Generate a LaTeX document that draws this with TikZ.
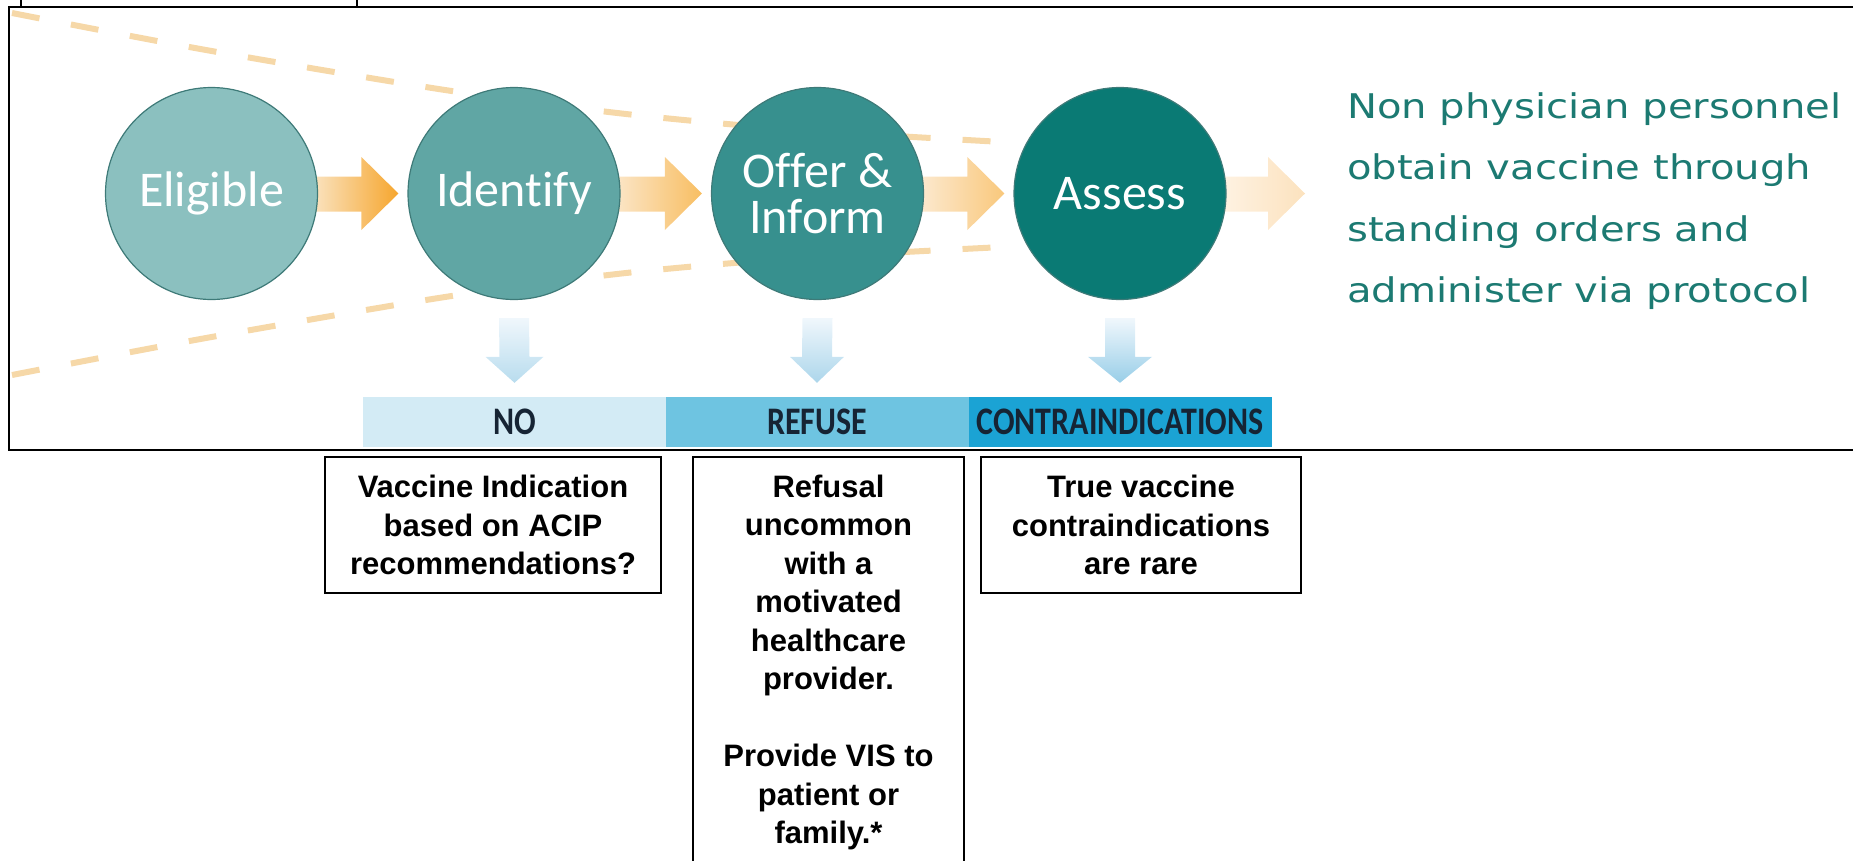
\documentclass[tikz,border=0pt]{standalone}
\usepackage{fontspec}
\setmainfont{Liberation Sans}
\newfontfamily\circlefont[Ligatures=NoCommon]{Carlito}
\newfontfamily\barfont[FakeStretch=0.82]{Carlito}
\newfontfamily\notefont[FakeStretch=1.18]{DejaVu Sans}
\usetikzlibrary{calc}

\definecolor{eligfill}{RGB}{139,192,191}
\definecolor{idenfill}{RGB}{96,166,164}
\definecolor{offfill}{RGB}{55,144,142}
\definecolor{assfill}{RGB}{10,122,116}
\definecolor{ringc}{RGB}{62,122,120}
\definecolor{dashc}{RGB}{246,216,168}
\definecolor{notec}{RGB}{28,122,114}
\definecolor{noc}{RGB}{211,235,245}
\definecolor{refc}{RGB}{110,196,225}
\definecolor{conc}{RGB}{27,163,212}
\definecolor{barink}{RGB}{22,36,52}
\definecolor{droptop}{RGB}{240,247,252}
% flow arrow shades (pale tail, stronger head)
\definecolor{flowAa}{RGB}{250,226,190}
\definecolor{flowAb}{RGB}{246,166,46}
\definecolor{flowBa}{RGB}{251,229,198}
\definecolor{flowBb}{RGB}{248,190,98}
\definecolor{flowCa}{RGB}{252,233,207}
\definecolor{flowCb}{RGB}{249,200,124}
\definecolor{flowDa}{RGB}{254,242,226}
\definecolor{flowDb}{RGB}{252,226,190}
% drop arrow shades
\definecolor{dropA}{RGB}{184,220,238}
\definecolor{dropB}{RGB}{172,214,235}
\definecolor{dropC}{RGB}{152,206,232}

\pgfdeclarelayer{bg}
\pgfsetlayers{bg,main}

% block arrow from anchor #1 to just before anchor #2, shaded #3 -> #4
\newcommand{\flowarrow}[4]{%
  \path[left color=#3, right color=#4]
    ([xshift=-4pt,yshift=17pt]#1) -- ([xshift=-46pt,yshift=17pt]#2)
    -- ([xshift=-46pt,yshift=36.5pt]#2) -- ([xshift=-9pt]#2)
    -- ([xshift=-46pt,yshift=-36.5pt]#2) -- ([xshift=-46pt,yshift=-18pt]#2)
    -- ([xshift=-4pt,yshift=-18pt]#1) -- cycle;}

% downward block arrow from anchor #1 to anchor #2, head half width #3, colour #4
\newcommand{\dropmark}[4]{%
  \path[top color=droptop, bottom color=#4]
    ([xshift=-15pt,yshift=-18pt]#1) -- ([xshift=15pt,yshift=-18pt]#1)
    -- ([xshift=15pt,yshift=40pt]#2) -- ([xshift=#3,yshift=40pt]#2)
    -- ([yshift=14pt]#2) -- ([xshift=-#3,yshift=40pt]#2)
    -- ([xshift=-15pt,yshift=40pt]#2) -- cycle;}

\begin{document}
\begin{tikzpicture}[x=1pt,y=-1pt,
  stage/.style={circle, minimum size=212pt, inner sep=0pt, draw=ringc,
    line width=1.2pt, text=white, align=center,
    font=\circlefont\fontsize{50}{46}\selectfont},
  barcell/.style={rectangle, minimum width=303pt, minimum height=50pt,
    inner sep=0pt, text=barink, font=\barfont\bfseries\fontsize{39}{40}\selectfont},
  notebox/.style={draw=black, line width=2pt, anchor=north, inner xsep=4pt,
    inner ysep=18pt, align=center, font=\bfseries\fontsize{31}{38.5}\selectfont},
  fadeline/.style={draw=dashc, line width=6pt, dash pattern=on 28pt off 32pt},
  frameline/.style={draw=black, line width=2pt},
]
\useasboundingbox (0,0) rectangle (1853,860);

% outer frames
\draw[frameline] (21,-5) -- (21,7) -- (357,7) -- (357,-5);
\draw[frameline] (1860,7) -- (9,7) -- (9,450) -- (1860,450);

% process stages
\node[stage, fill=eligfill] (elig) at (211.5,193.5) {Eligible};
\node[stage, fill=idenfill] (iden) at (514,193.5) {Identify};
\node[stage, fill=offfill] (offer) at (817.5,193.5) {Offer \&\\Inform};
\node[stage, fill=assfill] (assess) at (1120,193.5) {Assess};
\coordinate (out) at (1314,193.5);

% outcome bar
\node[barcell, fill=noc] (no) at (514.5,422) {NO};
\node[barcell, fill=refc] (refuse) at (817,422) {REFUSE};
\node[barcell, fill=conc] (contra) at (1120,422) {CONTRAINDICATIONS};

% funnel, flow arrows and drop arrows behind the stages
\begin{pgfonlayer}{bg}
  \draw[fadeline] plot[smooth] coordinates
    {(12,13) (206,50) (445,90) (626,114) (800,130) (1003,142)};
  \draw[fadeline] plot[smooth] coordinates
    {(12,375) (206,338) (445,297) (626,273) (800,258) (1003,247)};
  \flowarrow{elig.east}{iden.west}{flowAa}{flowAb}
  \flowarrow{iden.east}{offer.west}{flowBa}{flowBb}
  \flowarrow{offer.east}{assess.west}{flowCa}{flowCb}
  \flowarrow{assess.east}{out}{flowDa}{flowDb}
  \dropmark{iden.south}{no.north}{29pt}{dropA}
  \dropmark{offer.south}{refuse.north}{27pt}{dropB}
  \dropmark{assess.south}{contra.north}{32pt}{dropC}
\end{pgfonlayer}

% side note
\node[anchor=north west, inner sep=0pt, align=left, text=notec,
  font=\notefont\fontsize{34}{61.5}\selectfont] (note) at (1347,92)
  {Non physician personnel\\obtain vaccine through\\standing orders and\\administer via protocol};

% explanation boxes
\node[notebox, minimum width=336pt, minimum height=136pt] (why) at (493,456)
  {Vaccine Indication\\based on ACIP\\recommendations?};
\node[notebox, minimum width=271pt] (refusal) at (828.5,456)
  {Refusal\\uncommon\\with a\\motivated\\healthcare\\provider.\\[38.5pt]Provide VIS to\\patient or\\family.*};
\node[notebox, minimum width=320pt, minimum height=136pt] (rare) at (1141,456)
  {True vaccine\\contraindications\\are rare};
\end{tikzpicture}
\end{document}
